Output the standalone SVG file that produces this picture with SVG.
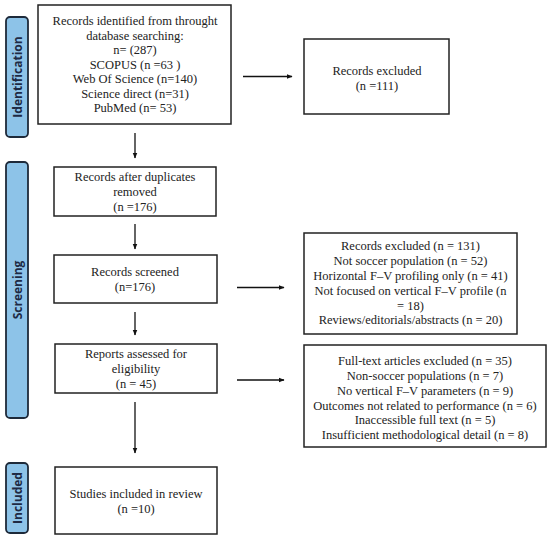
<svg xmlns="http://www.w3.org/2000/svg" width="550" height="539" viewBox="0 0 550 539">
<defs>
<style>
.box{fill:#fff;stroke:#222;stroke-width:1.5}
.lab{fill:#8dc3e8;stroke:#1e2a3a;stroke-width:1.8}
.lt{font-family:"Open Sans","DejaVu Sans",sans-serif;font-weight:bold;font-size:12px;fill:#1e2a44;text-anchor:middle}
.t{font-family:"Liberation Serif","Times New Roman",serif;font-size:12.5px;fill:#222;text-anchor:middle}
.c{stroke:#111;stroke-width:1.3;fill:none}
</style>
<marker id="ah" viewBox="0 0 10 10" refX="9" refY="5" markerWidth="6" markerHeight="6" orient="auto" markerUnits="userSpaceOnUse">
<path d="M0,1 L10,5 L0,9 Z" fill="#111"/>
</marker>
</defs>
<rect width="550" height="539" fill="#fff"/>
<g id="label-identification">
<rect class="lab" x="6" y="17" width="22" height="120" rx="4"/>
<text class="lt" transform="translate(21.5,77) rotate(-90)">Identification</text>
</g>
<g id="label-screening">
<rect class="lab" x="6" y="162" width="22" height="256" rx="4"/>
<text class="lt" transform="translate(21.5,290) rotate(-90)">Screening</text>
</g>
<g id="label-included">
<rect class="lab" x="6" y="463" width="22" height="70" rx="4"/>
<text class="lt" transform="translate(21.5,498) rotate(-90)">Included</text>
</g>
<g id="identified">
<rect class="box" x="38" y="5" width="193" height="119"/>
<text class="t"><tspan x="135" y="25">Records identified from throught</tspan><tspan x="135" y="39.5">database searching:</tspan><tspan x="135" y="54">n= (287)</tspan><tspan x="135" y="68.5">SCOPUS (n =63 )</tspan><tspan x="135" y="83">Web Of Science (n=140)</tspan><tspan x="135" y="97.5">Science direct (n=31)</tspan><tspan x="135" y="112">PubMed (n= 53)</tspan></text>
</g>
<g id="excluded1">
<rect class="box" x="304" y="39" width="145" height="75"/>
<text class="t"><tspan x="377" y="75">Records excluded</tspan><tspan x="377" y="90">(n =111)</tspan></text>
</g>
<g id="duplicates">
<rect class="box" x="54" y="167" width="162" height="49"/>
<text class="t"><tspan x="135" y="181">Records after duplicates</tspan><tspan x="135" y="196">removed</tspan><tspan x="135" y="211">(n =176)</tspan></text>
</g>
<g id="screened">
<rect class="box" x="54" y="255" width="163" height="48"/>
<text class="t"><tspan x="135" y="276">Records screened</tspan><tspan x="135" y="291">(n=176)</tspan></text>
</g>
<g id="excluded2">
<rect class="box" x="304" y="233" width="213" height="101"/>
<text class="t"><tspan x="410.5" y="250">Records excluded (n = 131)</tspan><tspan x="410.5" y="265">Not soccer population (n = 52)</tspan><tspan x="410.5" y="280">Horizontal F–V profiling only (n = 41)</tspan><tspan x="410.5" y="295">Not focused on vertical F–V profile (n</tspan><tspan x="410.5" y="309.5">= 18)</tspan><tspan x="410.5" y="324">Reviews/editorials/abstracts (n = 20)</tspan></text>
</g>
<g id="reports">
<rect class="box" x="55" y="344" width="162" height="49"/>
<text class="t"><tspan x="136" y="358">Reports assessed for</tspan><tspan x="136" y="373">eligibility</tspan><tspan x="136" y="388">(n = 45)</tspan></text>
</g>
<g id="excluded3">
<rect class="box" x="304" y="345" width="242" height="102"/>
<text class="t"><tspan x="425" y="365">Full-text articles excluded (n = 35)</tspan><tspan x="425" y="380">Non-soccer populations (n = 7)</tspan><tspan x="425" y="395">No vertical F–V parameters (n = 9)</tspan><tspan x="425" y="409.5">Outcomes not related to performance (n = 6)</tspan><tspan x="425" y="424">Inaccessible full text (n = 5)</tspan><tspan x="425" y="439">Insufficient methodological detail (n = 8)</tspan></text>
</g>
<g id="included">
<rect class="box" x="55" y="467" width="162" height="67"/>
<text class="t"><tspan x="136" y="498">Studies included in review</tspan><tspan x="136" y="513">(n =10)</tspan></text>
</g>
<g id="connectors">
<line class="c" x1="243" y1="76.5" x2="292" y2="76.5" marker-end="url(#ah)"/>
<line class="c" x1="135" y1="133" x2="135" y2="158" marker-end="url(#ah)"/>
<line class="c" x1="135" y1="224" x2="135" y2="249" marker-end="url(#ah)"/>
<line class="c" x1="237" y1="287.5" x2="284" y2="287.5" marker-end="url(#ah)"/>
<line class="c" x1="135" y1="312" x2="135" y2="335" marker-end="url(#ah)"/>
<line class="c" x1="237" y1="380" x2="284" y2="380" marker-end="url(#ah)"/>
<line class="c" x1="135" y1="402" x2="135" y2="453" marker-end="url(#ah)"/>
</g>
</svg>
